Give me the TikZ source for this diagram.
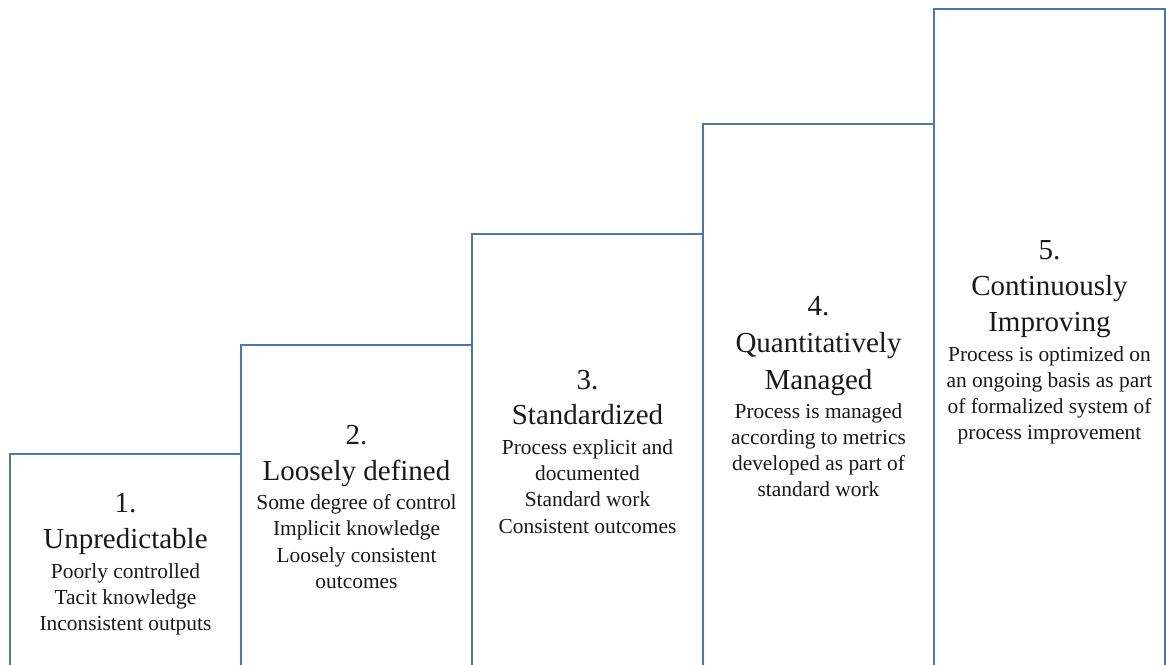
\documentclass[tikz,border=0pt]{standalone}
\usepackage{fontspec}
\setmainfont{Liberation Serif}
\definecolor{boxblue}{RGB}{74,120,170}
\begin{document}
\begin{tikzpicture}[x=1pt,y=-1pt,
  stepbox/.style={draw=boxblue, line width=1.8pt, anchor=north west, minimum width=231pt, minimum height=700pt, inner sep=0pt, outer sep=0pt},
  ttl/.style={anchor=base, font=\fontsize{29}{34}\selectfont, inner sep=0pt, text=black!90},
  bdy/.style={anchor=base, font=\fontsize{21.4}{26}\selectfont, inner sep=0pt, text=black!90}]
\path[use as bounding box] (0,0) rectangle (1166,664);
\clip (0,0) rectangle (1166,664);
\fill[white] (0,0) rectangle (1166,664);
% boxes
\node[stepbox] (b1) at (10,454) {};
\node[stepbox] (b2) at (241,345) {};
\node[stepbox] (b3) at (472,234) {};
\node[stepbox] (b4) at (703,124) {};
\node[stepbox] (b5) at (934,9) {};
% box 1
\node[ttl] (t1a) at (125.5,512) {1.};
\node[ttl] (t1b) at (125.5,548) {Unpredictable};
\node[bdy] (t1c) at (125.5,578) {Poorly controlled};
\node[bdy] (t1d) at (125.5,604) {Tacit knowledge};
\node[bdy] (t1e) at (125.5,630) {Inconsistent outputs};
% box 2
\node[ttl] (t2a) at (356.5,444) {2.};
\node[ttl] (t2b) at (356.5,480) {Loosely defined};
\node[bdy] (t2c) at (356.5,509) {Some degree of control};
\node[bdy] (t2d) at (356.5,535) {Implicit knowledge};
\node[bdy] (t2e) at (356.5,562) {Loosely consistent};
\node[bdy] (t2f) at (356.5,588) {outcomes};
% box 3
\node[ttl] (t3a) at (587.5,389) {3.};
\node[ttl] (t3b) at (587.5,424) {Standardized};
\node[bdy] (t3c) at (587.5,454) {Process explicit and};
\node[bdy] (t3d) at (587.5,480) {documented};
\node[bdy] (t3e) at (587.5,506) {Standard work};
\node[bdy] (t3f) at (587.5,533) {Consistent outcomes};
% box 4
\node[ttl] (t4a) at (818.5,315) {4.};
\node[ttl] (t4b) at (818.5,352) {Quantitatively};
\node[ttl] (t4c) at (818.5,389) {Managed};
\node[bdy] (t4d) at (818.5,418) {Process is managed};
\node[bdy] (t4e) at (818.5,444) {according to metrics};
\node[bdy] (t4f) at (818.5,470) {developed as part of};
\node[bdy] (t4g) at (818.5,496) {standard work};
% box 5
\node[ttl] (t5a) at (1049.5,259) {5.};
\node[ttl] (t5b) at (1049.5,295) {Continuously};
\node[ttl] (t5c) at (1049.5,331) {Improving};
\node[bdy] (t5d) at (1049.5,361) {Process is optimized on};
\node[bdy] (t5e) at (1049.5,387) {an ongoing basis as part};
\node[bdy] (t5f) at (1049.5,413) {of formalized system of};
\node[bdy] (t5g) at (1049.5,439) {process improvement};
\end{tikzpicture}
\end{document}
